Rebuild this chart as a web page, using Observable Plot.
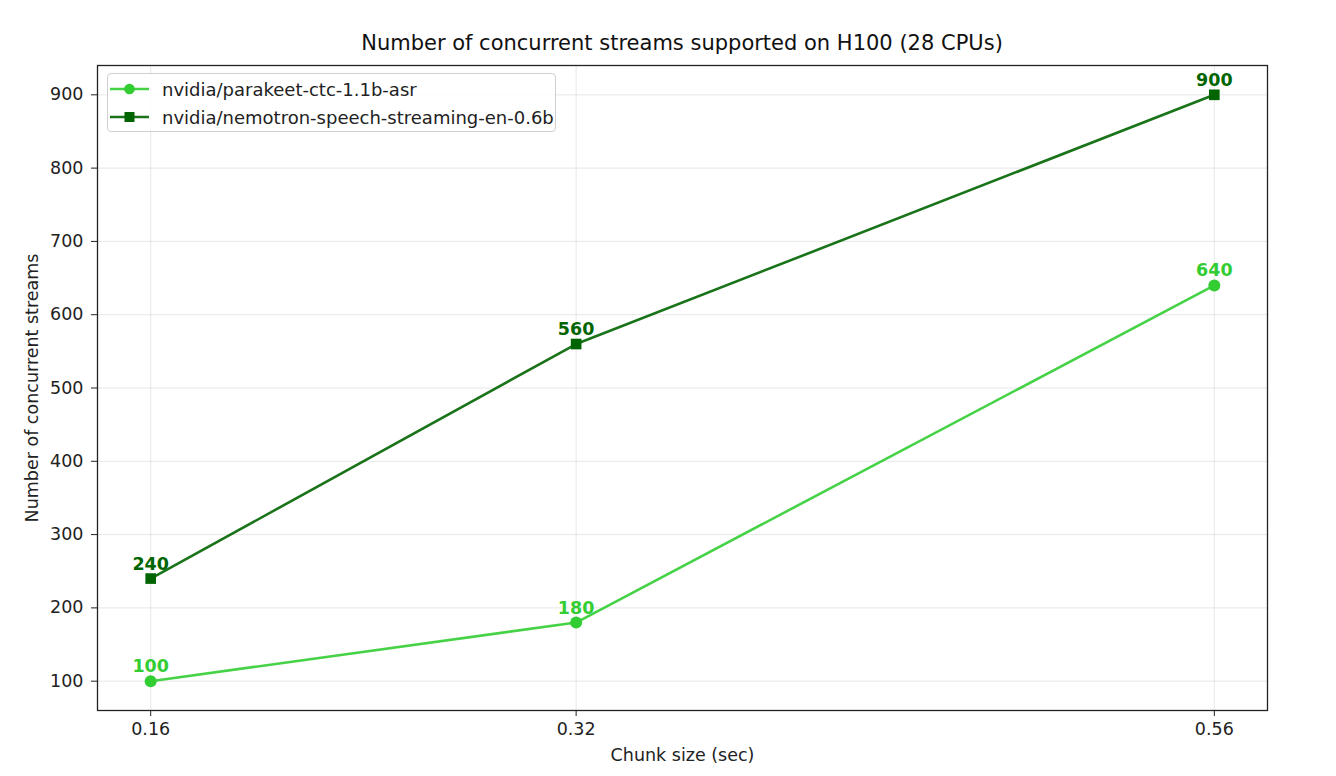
<!DOCTYPE html>
<html>
<head>
<meta charset="utf-8">
<script src="https://cdn.jsdelivr.net/npm/d3@7"></script>
<script src="https://cdn.jsdelivr.net/npm/@observablehq/plot@0.6"></script>
<style>
  html, body { margin: 0; padding: 0; background: #fff; }
  #wrap { position: relative; width: 1336px; height: 776px; font-family: "DejaVu Sans", sans-serif; overflow: hidden; }
  #title { position: absolute; left: 97px; width: 1170px; top: 33px; line-height: 21px; text-align: center; font-size: 21px; color: #111; white-space: nowrap; }
  #chart { position: absolute; left: 0; top: 64px; }
  #legend { position: absolute; left: 107px; top: 73px; width: 449px; height: 59px; box-sizing: border-box; padding: 1px 0 0 2px; border: 1px solid #d0d0d0; border-radius: 4px; background: rgba(255,255,255,0.85); font-size: 18px; color: #222; }
  .row { display: flex; align-items: center; height: 28px; white-space: nowrap; }
  .row svg { margin-right: 13px; flex: none; }
</style>
</head>
<body>
<div id="wrap">
  <div id="title"></div>
  <div id="chart"></div>
  <div id="legend"></div>
</div>
<script>
const titleText = "Number of concurrent streams supported on H100 (28 CPUs)";
const xLabel = "Chunk size (sec)";
const yLabel = "Number of concurrent streams";
const chunkSizes = [0.16, 0.32, 0.56];
const seriesNames = ["nvidia/parakeet-ctc-1.1b-asr", "nvidia/nemotron-speech-streaming-en-0.6b"];
const parakeetStreams = [100, 180, 640];
const nemotronStreams = [240, 560, 900];
const seriesColors = ["#32CD32", "#006400"];
const seriesSymbols = ["circle", "square"];
const yTicks = [100, 200, 300, 400, 500, 600, 700, 800, 900];

const seriesValues = [parakeetStreams, nemotronStreams];
const data = seriesNames.flatMap((name, i) =>
  chunkSizes.map((c, j) => ({series: name, chunk: c, value: seriesValues[i][j], color: seriesColors[i], symbol: seriesSymbols[i]}))
);

document.getElementById("title").textContent = titleText;

const plot = Plot.plot({
  width: 1336,
  height: 712,
  marginTop: 1,
  marginLeft: 97,
  marginRight: 69,
  marginBottom: 66,
  style: {fontFamily: "DejaVu Sans, sans-serif", fontSize: "17.5px", color: "#222", background: "transparent"},
  x: {type: "linear", domain: [0.14, 0.58]},
  y: {type: "linear", domain: [60, 940]},
  marks: [
    Plot.gridX(chunkSizes, {stroke: "#b0b0b0", strokeOpacity: 0.3, strokeWidth: 1}),
    Plot.gridY(yTicks, {stroke: "#b0b0b0", strokeOpacity: 0.3, strokeWidth: 1}),
    Plot.axisX(chunkSizes, {tickSize: 6, tickPadding: 6, tickFormat: d => d.toFixed(2), label: null, fontSize: 17.5}),
    Plot.axisY(yTicks, {tickSize: 6, tickPadding: 8, label: null, fontSize: 17.5}),
    Plot.text([xLabel], {frameAnchor: "bottom", lineAnchor: "middle", textAnchor: "middle", dy: 45, fontSize: 17.5, fill: "#222"}),
    Plot.text([yLabel], {frameAnchor: "left", lineAnchor: "middle", textAnchor: "middle", rotate: -90, dx: -65, fontSize: 17.5, fill: "#222"}),
    Plot.line(data, {x: "chunk", y: "value", z: "series", stroke: d => d.color, strokeWidth: 2.6, strokeOpacity: 0.9}),
    Plot.dot(data, {x: "chunk", y: "value", symbol: d => d.symbol, fill: d => d.color, stroke: "none", r: 6}),
    Plot.text(data, {x: "chunk", y: "value", text: d => String(d.value), fill: d => d.color, fontWeight: "bold", fontSize: 17.5, dy: -14.5, lineAnchor: "middle"}),
    Plot.frame({stroke: "#222", strokeWidth: 1.3})
  ]
});
document.getElementById("chart").appendChild(plot);

const legend = document.getElementById("legend");
seriesNames.forEach((name, i) => {
  const row = document.createElement("div");
  row.className = "row";
  const marker = seriesSymbols[i] === "circle"
    ? `<circle cx="19.5" cy="8" r="5.3" fill="${seriesColors[i]}"/>`
    : `<rect x="14.5" y="3" width="10" height="10" fill="${seriesColors[i]}"/>`;
  row.innerHTML = `<svg width="39" height="16"><line x1="0" x2="39" y1="8" y2="8" stroke="${seriesColors[i]}" stroke-width="2.6" stroke-opacity="0.9"/>${marker}</svg><span>${name}</span>`;
  legend.appendChild(row);
});
</script>
</body>
</html>
